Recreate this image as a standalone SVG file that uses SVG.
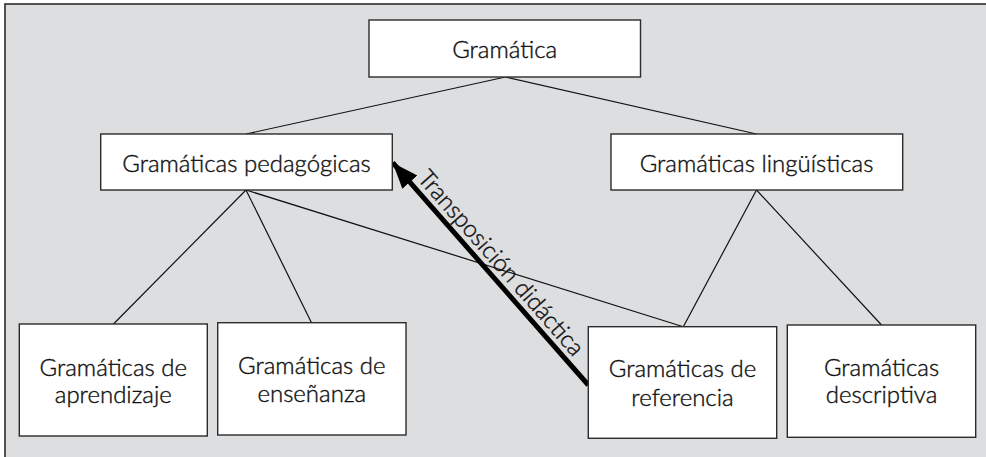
<svg xmlns="http://www.w3.org/2000/svg" width="986" height="457" viewBox="0 0 986 457">
<defs>
<style>
.box{fill:#ffffff;stroke:#2b2b2b;stroke-width:1.4}
.t{font-family:Lato,"Open Sans","Liberation Sans",sans-serif;font-size:24px;font-weight:300;fill:#111;stroke:#111;stroke-width:0.4;text-anchor:middle}
.c{stroke:#111;stroke-width:1.2;fill:none}
</style>
<marker id="ah" markerUnits="userSpaceOnUse" markerWidth="28" markerHeight="22" refX="26" refY="10" orient="auto">
<path d="M0,0 L26,10 L0,20 Z" fill="#000"/>
</marker>
</defs>
<rect x="5" y="4" width="1000" height="470" fill="#dddee0" stroke="#2a2a2a" stroke-width="1.6"/>
<g id="connectors">
<line class="c" x1="505.5" y1="77" x2="246" y2="134"/>
<line class="c" x1="505.5" y1="77" x2="756.5" y2="134"/>
<line class="c" x1="246" y1="190" x2="113.5" y2="324"/>
<line class="c" x1="246" y1="190" x2="311.5" y2="322.7"/>
<line class="c" x1="246" y1="190" x2="683.3" y2="326.7"/>
<line class="c" x1="756.5" y1="190" x2="683.3" y2="326.7"/>
<line class="c" x1="756.5" y1="190" x2="881.5" y2="325"/>
<line id="arrow" x1="588.3" y1="385" x2="392.7" y2="162.7" stroke="#000" stroke-width="5" marker-end="url(#ah)"/>
<text class="t" style="text-anchor:start" transform="translate(416.5,179.1) rotate(48.7)">Transposición didáctica</text>
</g>
<g id="n-gramatica">
<rect class="box" x="369" y="20" width="271.5" height="57"/>
<text class="t" x="504.7" y="58.3">Gramática</text>
</g>
<g id="n-pedagogicas">
<rect class="box" x="100.7" y="134" width="291.6" height="56"/>
<text class="t" x="246.5" y="171.7">Gramáticas pedagógicas</text>
</g>
<g id="n-linguisticas">
<rect class="box" x="611" y="134" width="291.7" height="56"/>
<text class="t" x="756.5" y="171.7">Gramáticas lingüísticas</text>
</g>
<g id="n-aprendizaje">
<rect class="box" x="19.3" y="324" width="188" height="112"/>
<text class="t" x="113.3" y="375.5">Gramáticas de</text>
<text class="t" x="113.3" y="403">aprendizaje</text>
</g>
<g id="n-ensenanza">
<rect class="box" x="217.7" y="322.7" width="188.3" height="112.3"/>
<text class="t" x="311.8" y="373.5">Gramáticas de</text>
<text class="t" x="311.8" y="402">enseñanza</text>
</g>
<g id="n-referencia">
<rect class="box" x="588.3" y="326.7" width="188.4" height="111.6"/>
<text class="t" x="682.5" y="377">Gramáticas de</text>
<text class="t" x="682.5" y="406">referencia</text>
</g>
<g id="n-descriptiva">
<rect class="box" x="787.3" y="325" width="188.4" height="112.3"/>
<text class="t" x="881.5" y="375.7">Gramáticas</text>
<text class="t" x="881.5" y="403.3">descriptiva</text>
</g>
</svg>
